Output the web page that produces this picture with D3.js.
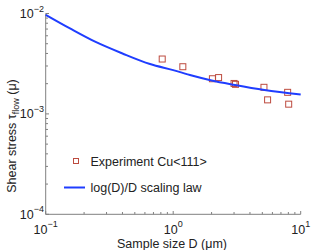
<!DOCTYPE html>
<html lang="en">
<head>
<meta charset="utf-8">
<title>Shear stress vs sample size</title>
<script src="https://cdn.jsdelivr.net/npm/d3@7"></script>
<style>
  body { margin: 0; background: #fff; }
  text { font-family: "Liberation Sans", Arial, sans-serif; fill: #222; }
</style>
</head>
<body>
<script>
// experiment points, Cu<111>
var expD   = [0.82, 1.19, 2.03, 2.27, 3.0, 3.08, 5.15, 5.5, 7.9, 8.05];
var expTau = [3.52e-3, 2.95e-3, 2.24e-3, 2.30e-3, 2.01e-3, 1.97e-3, 1.84e-3, 1.38e-3, 1.64e-3, 1.25e-3];

// scaling law curve
var lawD   = [0.1, 0.155, 0.244, 0.4, 0.658, 1.0, 1.4, 2.0, 3.05, 5.2, 10];
var lawTau = [9.7e-3, 7.1e-3, 5.24e-3, 4.0e-3, 3.14e-3, 2.73e-3, 2.41e-3, 2.15e-3, 1.94e-3, 1.73e-3, 1.56e-3];

var xTicks = [0.1, 1, 10];
var xTickExp = ["\u22121", "0", "1"];
var yTicks = [1e-4, 1e-3, 1e-2];
var yTickExp = ["\u22124", "\u22123", "\u22122"];

var w = 332, h = 250;
var fs = "12.5px", sup = "9px";

var x = d3.scaleLog().domain([0.1, 10]).range([45.7, 300.7]);
var y = d3.scaleLog().domain([1e-4, 1e-2]).range([214.3, 13.5]);

var svg = d3.select("body").append("svg")
  .attr("width", w)
  .attr("height", h);

var axisCol = "#808080";

// minor ticks
var xMinor = x.ticks(20).filter(function(d) { return xTicks.indexOf(d) < 0; });
var yMinor = y.ticks(20).filter(function(d) { return yTicks.indexOf(d) < 0; });

svg.selectAll("line.xminor").data(xMinor).enter().append("line")
  .attr("x1", function(d) { return x(d); }).attr("x2", function(d) { return x(d); })
  .attr("y1", 214.3).attr("y2", 212)
  .attr("stroke", axisCol).attr("stroke-width", 1);
svg.selectAll("line.yminor").data(yMinor).enter().append("line")
  .attr("y1", function(d) { return y(d); }).attr("y2", function(d) { return y(d); })
  .attr("x1", 45.7).attr("x2", 48)
  .attr("stroke", axisCol).attr("stroke-width", 1);

// major ticks
svg.selectAll("line.xmajor").data(xTicks).enter().append("line")
  .attr("x1", function(d) { return x(d); }).attr("x2", function(d) { return x(d); })
  .attr("y1", 214.3).attr("y2", 211)
  .attr("stroke", axisCol).attr("stroke-width", 1);
svg.selectAll("line.ymajor").data(yTicks).enter().append("line")
  .attr("y1", function(d) { return y(d); }).attr("y2", function(d) { return y(d); })
  .attr("x1", 45.7).attr("x2", 49)
  .attr("stroke", axisCol).attr("stroke-width", 1);

// axis lines (no box)
svg.append("line").attr("x1", 45.7).attr("x2", 45.7).attr("y1", 13.5).attr("y2", 214.3)
  .attr("stroke", axisCol).attr("stroke-width", 1);
svg.append("line").attr("x1", 45.7).attr("x2", 300.7).attr("y1", 214.3).attr("y2", 214.3)
  .attr("stroke", axisCol).attr("stroke-width", 1);

// tick labels
var xl = svg.selectAll("text.xt").data(xTicks).enter().append("text")
  .attr("x", function(d) { return x(d); })
  .attr("y", 233.5)
  .attr("text-anchor", "middle")
  .style("font-size", fs);
xl.append("tspan").text("10");
xl.append("tspan").attr("dy", -7).style("font-size", sup)
  .text(function(d, i) { return xTickExp[i]; });

var yl = svg.selectAll("text.yt").data(yTicks).enter().append("text")
  .attr("x", 44)
  .attr("y", function(d) { return y(d) + 4.5; })
  .attr("text-anchor", "end")
  .style("font-size", fs);
yl.append("tspan").text("10");
yl.append("tspan").attr("dy", -6.5).style("font-size", sup)
  .text(function(d, i) { return yTickExp[i]; });

// axis titles
svg.append("text")
  .attr("x", 172).attr("y", 247.5)
  .attr("text-anchor", "middle")
  .style("font-size", fs)
  .text("Sample size D (\u03bcm)");

var yt = svg.append("text")
  .attr("transform", "translate(15.5,136) rotate(-90)")
  .attr("text-anchor", "middle")
  .style("font-size", fs);
yt.append("tspan").text("Shear stress \u03c4");
yt.append("tspan").attr("dy", 3).style("font-size", sup).text("flow");
yt.append("tspan").attr("dy", -3).text(" (\u03bc)");

// scaling law line
var line = d3.line()
  .x(function(d) { return x(d[0]); })
  .y(function(d) { return y(d[1]); })
  .curve(d3.curveMonotoneX);

var lawPts = lawD.map(function(d, i) { return [d, lawTau[i]]; });

var markCol = "#bd4b3f";
var ms = 6;

svg.selectAll("rect.exp").data(expD).enter().append("rect")
  .attr("x", function(d) { return x(d) - ms / 2; })
  .attr("y", function(d, i) { return y(expTau[i]) - ms / 2; })
  .attr("width", ms).attr("height", ms)
  .attr("fill", "none")
  .attr("stroke", markCol).attr("stroke-width", 1);

svg.append("path")
  .datum(lawPts)
  .attr("d", line)
  .attr("fill", "none")
  .attr("stroke", "#1f3dff")
  .attr("stroke-width", 2);

// legend
svg.append("rect")
  .attr("x", 73.5).attr("y", 158.5).attr("width", 5).attr("height", 5)
  .attr("fill", "none").attr("stroke", markCol).attr("stroke-width", 1);
svg.append("text").attr("x", 90.5).attr("y", 165.5).style("font-size", fs)
  .text("Experiment Cu<111>");
svg.append("line").attr("x1", 64).attr("x2", 85).attr("y1", 187.5).attr("y2", 187.5)
  .attr("stroke", "#1f3dff").attr("stroke-width", 2);
svg.append("text").attr("x", 90.5).attr("y", 192).style("font-size", fs)
  .text("log(D)/D scaling law");
</script>
</body>
</html>
